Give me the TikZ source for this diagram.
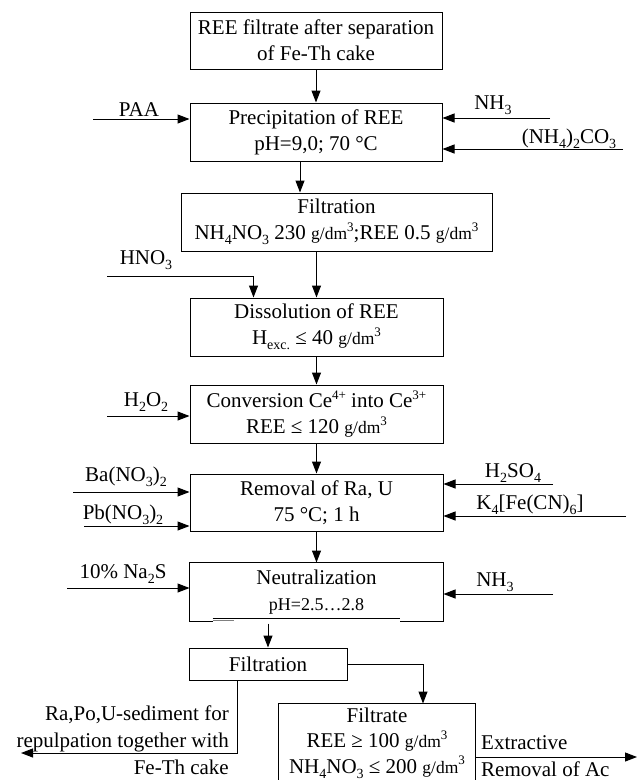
\documentclass[tikz,border=0pt]{standalone}
\usepackage{fontspec}
\setmainfont{Liberation Serif}
\usetikzlibrary{arrows.meta,calc}
\newcommand\sbx[1]{\raisebox{-0.22em}{\fontsize{14}{14}\selectfont #1}}
\newcommand\spx[1]{\raisebox{0.42em}{\fontsize{13}{13}\selectfont #1}}
\newcommand\gdm{{\fontsize{17.5}{17.5}\selectfont g/dm}\spx{3}}
\begin{document}
\begin{tikzpicture}[x=1pt,y=-1pt,
  box/.style={draw, line width=1pt, inner sep=0pt, align=center, font=\fontsize{21}{26}\selectfont},
  lbl/.style={inner sep=0pt, font=\fontsize{21}{26}\selectfont},
  arr/.style={line width=1pt, -{Triangle[length=12pt,width=9pt]}},
  ln/.style={line width=1pt}]
\useasboundingbox (0,0) rectangle (637,780);

% main boxes
\node[box, minimum width=252, minimum height=57] (b1) at (316,40.5) {REE filtrate after separation\\of Fe-Th cake};
\node[box, minimum width=252, minimum height=58] (b2) at (316,132) {Precipitation of REE\\pH=9,0; 70 °C};
\node[box, minimum width=311, minimum height=58] (b3) at (336.5,222) {Filtration\\NH\sbx{4}NO\sbx{3} 230 \gdm;REE 0.5 \gdm};
\node[box, minimum width=253, minimum height=58] (b4) at (316.5,327) {Dissolution of REE\\H\sbx{exc.} ≤ 40 \gdm};
\node[box, minimum width=253, minimum height=58] (b5) at (316.5,414) {Conversion Ce\spx{4+} into Ce\spx{3+}\\REE ≤ 120 \gdm};
\node[box, minimum width=253, minimum height=57] (b6) at (316.5,502.5) {Removal of Ra, U\\75 °C; 1 h};
\node[box, draw=none, minimum width=253, minimum height=58] (b7) at (316.5,592) {Neutralization\\{\fontsize{18}{18}\selectfont pH=2.5…2.8}};
\node[box, minimum width=158, minimum height=32] (b8) at (268,664) {Filtration};
\node[box, draw=none, minimum width=196, minimum height=78, font=\fontsize{21}{25.5}\selectfont] (b9) at (377,743) {Filtrate\\REE ≥ 100 \gdm\\NH\sbx{4}NO\sbx{3} ≤ 200 \gdm};

% neutralization box outline with its broken bottom edge
\draw[ln] ([xshift=23pt]b7.south west) -- (b7.south west) -- (b7.north west) -- (b7.north east) -- (b7.south east) -- ([xshift=-44pt]b7.south east);
\draw[ln] ([shift={(23,-3)}]b7.south west) -- ([shift={(-44,-3)}]b7.south east);
\draw[line width=1.8pt, gray] ([shift={(23,-1)}]b7.south west) -- ([shift={(44,-1)}]b7.south west);

% filtrate box (open at the bottom edge of the page)
\draw[ln] (b9.south west) -- (b9.north west) -- (b9.north east) -- (b9.south east);

% main flow
\draw[arr] (b1.south) -- (b2.north);
\draw[arr] ([xshift=-16pt]b2.south) -- ([xshift=-16pt]b2.south |- b3.north);
\draw[arr] (b4.north |- b3.south) -- (b4.north);
\draw[arr] (b4.south) -- (b5.north);
\draw[arr] (b5.south) -- (b6.north);
\draw[arr] (b6.south) -- (b7.north);
\draw[arr] ([yshift=-2pt]b8.north |- b7.south) -- (b8.north);
\draw[arr] (b8.east) -| ([xshift=46pt]b9.north);

% reagents, left
\coordinate (sPAA) at (93,119);
\coordinate (sHNO) at (107,276);
\coordinate (sHOO) at (107,416);
\coordinate (sBa) at (73,492);
\coordinate (sPb) at (84,526);
\coordinate (sNaS) at (67,588);
\draw[arr] (sPAA) -- (sPAA -| b2.west);
\draw[arr] (sHNO) -| ([xshift=64pt]b4.north west);
\draw[arr] (sHOO) -- (sHOO -| b5.west);
\draw[arr] (sBa) -- (sBa -| b6.west);
\draw[arr] (sPb) -- (sPb -| b6.west);
\draw[arr] (sNaS) -- (sNaS -| b7.west);

% reagents, right
\coordinate (sNHa) at (550,118);
\coordinate (sCO) at (623,149);
\coordinate (sSO) at (553,484);
\coordinate (sK) at (626,516);
\coordinate (sNHb) at (553,594);
\draw[arr] (sNHa) -- (sNHa -| b2.east);
\draw[arr] (sCO) -- (sCO -| b2.east);
\draw[arr] (sSO) -- (sSO -| b6.east);
\draw[arr] (sK) -- (sK -| b6.east);
\draw[arr] (sNHb) -- (sNHb -| b7.east);

% outputs
\coordinate (cSed) at (21,753);
\coordinate (cExt) at (637,757);
\draw[arr] ([xshift=49pt]b8.south west) |- (cSed);
\draw[arr] (b9.east |- cExt) -- (cExt);

% labels
\node[lbl] (lPAA) at (139,110) {PAA};
\node[lbl] (lNHa) at (493,105) {NH\sbx{3}};
\node[lbl] (lCO) at (569,139) {(NH\sbx{4})\sbx{2}CO\sbx{3}};
\node[lbl] (lHNO) at (146,260) {HNO\sbx{3}};
\node[lbl] (lHOO) at (146,402) {H\sbx{2}O\sbx{2}};
\node[lbl] (lBa) at (126,477) {Ba(NO\sbx{3})\sbx{2}};
\node[lbl] (lPb) at (123,515) {Pb(NO\sbx{3})\sbx{2}};
\node[lbl] (lSO) at (513,473) {H\sbx{2}SO\sbx{4}};
\node[lbl] (lK) at (530,505) {K\sbx{4}[Fe(CN)\sbx{6}]};
\node[lbl] (lNaS) at (123,574) {10\%{} Na\sbx{2}S};
\node[lbl] (lNHb) at (495,582) {NH\sbx{3}};
\node[lbl, align=right, anchor=east, font=\fontsize{21}{27}\selectfont] (lSed) at (229,740) {Ra,Po,U-sediment for\\repulpation together with\\Fe-Th cake};
\node[lbl, anchor=west] (lExt) at (481,743) {Extractive};
\node[lbl, anchor=base west] (lAc) at (481,776) {Removal of Ac};
\end{tikzpicture}
\end{document}
